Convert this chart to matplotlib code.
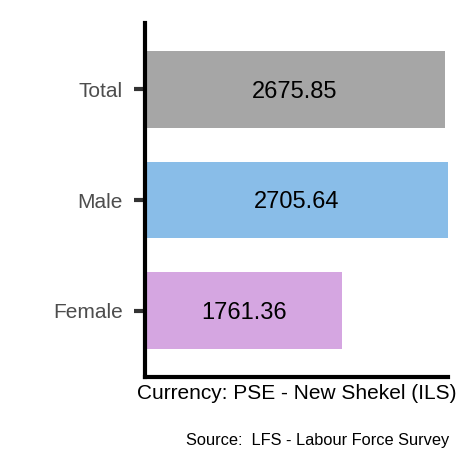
import matplotlib
matplotlib.use("Agg")
import matplotlib.pyplot as plt

categories = ["Female", "Male", "Total"]
values = [1761.36, 2705.64, 2675.85]
colors = ["#d5a6e1", "#89bde8", "#a6a6a6"]
value_labels = ["1761.36", "2705.64", "2675.85"]

plt.rcParams['font.family'] = ['Liberation Sans', 'DejaVu Sans']

fig = plt.figure(figsize=(4.72, 4.72), dpi=100)
ax = fig.add_axes([145/472, 1-377/472, (448-145)/472, (377-23)/472])

ypos = list(range(1, len(categories) + 1))
ax.barh(ypos, values, height=0.69, color=colors)
for y, v, lab in zip(ypos, values, value_labels):
    ax.text(v / 2, y, lab, ha="center", va="center_baseline", fontsize=17, color="black")

ax.set_xlim(0, max(values))
ax.set_ylim(0.4, 3.6)
ax.set_yticks(ypos)
ax.set_yticklabels(categories, fontsize=15, color="#4d4d4d")
ax.set_xticks([])
ax.tick_params(axis="y", length=8, width=3, color="#333333", pad=8)
for s in ["top", "right"]:
    ax.spines[s].set_visible(False)
for s in ["left", "bottom"]:
    ax.spines[s].set_linewidth(3)
    ax.spines[s].set_color("black")
ax.set_xlabel("Currency: PSE - New Shekel (ILS)", fontsize=15, color="black", labelpad=5)
fig.text(449/472, 1-440/472, "Source:  LFS - Labour Force Survey", ha="right", va="center",
         fontsize=11.8, color="black")

fig.savefig("out.png", dpi=100, facecolor="white")
